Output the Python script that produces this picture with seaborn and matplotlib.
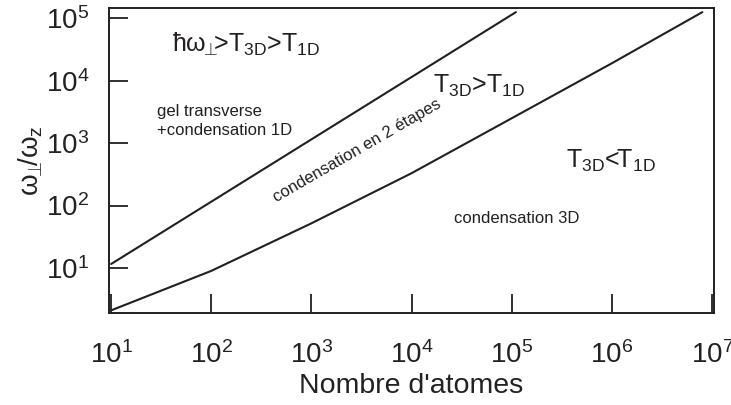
import pandas as pd
import seaborn as sns
import matplotlib
matplotlib.use('Agg')
import matplotlib.pyplot as plt

# upper boundary: hbar*omega_perp = T_3D
upper_atoms = [10, 1.1e5]
upper_ratio = [11.6, 1.25e5]

# lower boundary: T_3D = T_1D
lower_atoms = [10, 100, 1e3, 1e4, 1e5, 1e6, 8e6]
lower_ratio = [2.1, 9, 52, 330, 2500, 1.9e4, 1.25e5]

x_ticks = [1e1, 1e2, 1e3, 1e4, 1e5, 1e6, 1e7]
y_ticks = [1e1, 1e2, 1e3, 1e4, 1e5]

upper_df = pd.DataFrame({"N": upper_atoms, "ratio": upper_ratio})
lower_df = pd.DataFrame({"N": lower_atoms, "ratio": lower_ratio})

sns.set_style("ticks")
plt.rcParams['font.family'] = ['Liberation Sans', 'DejaVu Sans']
plt.rcParams['mathtext.fontset'] = 'custom'
plt.rcParams['mathtext.rm'] = 'Liberation Sans'
plt.rcParams['mathtext.it'] = 'Liberation Sans'
plt.rcParams['mathtext.bf'] = 'Liberation Sans:bold'

ink = '#231f20'

fig = plt.figure(figsize=(7.31, 4.05), dpi=100)
ax = fig.add_axes([0.149, 0.227, 0.828, 0.753])

sns.lineplot(data=upper_df, x="N", y="ratio", ax=ax, color=ink, lw=1.5, sort=False)
sns.lineplot(data=lower_df, x="N", y="ratio", ax=ax, color=ink, lw=1.5, sort=False)

ax.set_xscale('log')
ax.set_yscale('log')
ax.set_xlim(9.5, 1.05e7)
ax.set_ylim(1.9, 1.45e5)
ax.set_xticks(x_ticks)
ax.set_yticks(y_ticks)
ax.minorticks_off()
ax.tick_params(direction='in', length=14, width=1.3, colors=ink, labelcolor='#222222',
               labelsize=20, top=False, right=False)
ax.tick_params(axis='x', pad=20)
ax.tick_params(axis='y', pad=14)
for s in ax.spines.values():
    s.set_color(ink)
    s.set_linewidth(1.4)

perp = r"\omega_{\!\!\bot\!\!\!}"
ax.set_xlabel("Nombre d'atomes", fontsize=20.5, color='#222222', labelpad=3)
ax.set_ylabel(r"$" + perp + r"/\omega_{z}$", fontsize=20, color='#222222', labelpad=1)

big = 18
small = 12
ax.text(0.104, 0.88, r"$\hbar" + perp + r"$>T$_{\mathrm{3D}}$>T$_{\mathrm{1D}}$",
        transform=ax.transAxes, fontsize=big, color=ink, va='center', ha='left')
ax.text(0.079, 0.63, "gel transverse\n+condensation 1D", transform=ax.transAxes,
        fontsize=small, color=ink, va='center', ha='left', linespacing=1.3)
ax.text(0.41, 0.534, "condensation en 2 étapes", transform=ax.transAxes,
        fontsize=small, color=ink, va='center', ha='center', rotation=30)
ax.text(0.535, 0.745, r"T$_{\mathrm{3D}}$>T$_{\mathrm{1D}}$", transform=ax.transAxes,
        fontsize=big, color=ink, va='center', ha='left')
ax.text(0.755, 0.50, r"T$_{\mathrm{3D}}$<T$_{\mathrm{1D}}$", transform=ax.transAxes,
        fontsize=big, color=ink, va='center', ha='left')
ax.text(0.57, 0.31, "condensation 3D", transform=ax.transAxes,
        fontsize=small, color=ink, va='center', ha='left')

fig.savefig("out.png", dpi=100)
